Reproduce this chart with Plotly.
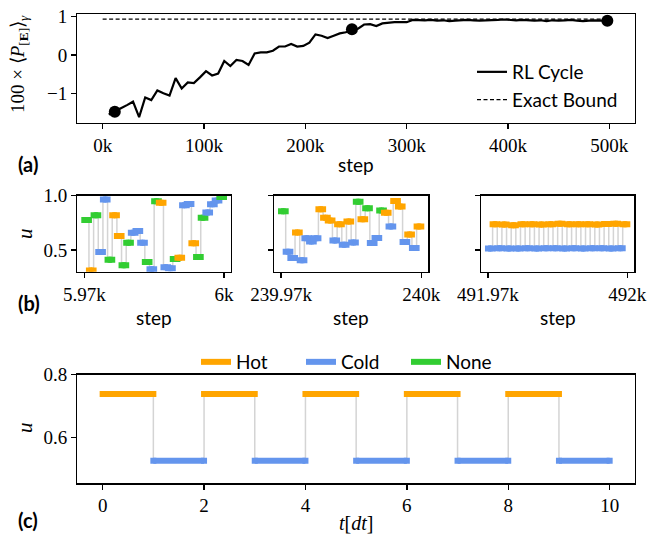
import plotly.graph_objects as go

W, H = 662, 535

# ---------------- data: panel (a) ----------------
A_STEPS = list(range(6000, 498001, 6000))
A_VALUES = [
    -1.54, -1.47, -1.38, -1.30, -1.21, -1.61, -1.10, -1.17, -0.92, -0.99,
    -1.05, -0.60, -0.87, -0.71, -0.73, -0.58, -0.42, -0.53, -0.48, -0.155,
    -0.285, -0.13, -0.155, -0.26, 0.04, 0.07, 0.07, 0.11, 0.22, 0.22,
    0.285, 0.22, 0.235, 0.32, 0.535, 0.50, 0.44, 0.50, 0.56, 0.59,
    0.665, 0.68, 0.79, 0.80, 0.75, 0.82, 0.84, 0.85, 0.85, 0.85,
    0.91, 0.90,
    0.90, 0.91, 0.89, 0.90, 0.88, 0.89, 0.90, 0.91, 0.90, 0.89,
    0.90, 0.90, 0.91, 0.92, 0.91, 0.90, 0.91, 0.90, 0.89, 0.90,
    0.88, 0.90, 0.89, 0.90, 0.91, 0.89, 0.88, 0.89, 0.90, 0.89, 0.89,
]
A_BOUND_STEPS = [0, 500000]
A_BOUND_VALUES = [0.93, 0.93]
A_DOT_STEPS = [12000, 246000, 498000]
A_XTICKS = [0, 100000, 200000, 300000, 400000, 500000]
A_XTICKTEXT = ["0k", "100k", "200k", "300k", "400k", "500k"]
A_YTICKS = [-1, 0, 1]

# ---------------- data: panel (b) ----------------
B1_START = 5970
B1_U = [0.777, 0.31, 0.820, 0.481, 0.964, 0.411, 0.820, 0.628, 0.359, 0.567,
        0.658, 0.674, 0.567, 0.390, 0.323, 0.948, 0.936, 0.341, 0.332, 0.417,
        0.429, 0.912, 0.924, 0.561, 0.436, 0.796, 0.845, 0.921, 0.955, 0.988]
B1_ACT = ["None", "Hot", "None", "Cold", "Cold", "None", "Hot", "Hot", "None", "None",
          "Cold", "Cold", "Cold", "None", "Cold", "None", "Hot", "Cold", "Cold", "None",
          "Hot", "Cold", "Cold", "Hot", "None", "None", "Cold", "Cold", "Cold", "None"]

B2_START = 239970
B2_U = [0.857, 0.484, 0.426, 0.661, 0.405, 0.607, 0.579, 0.607, 0.875, 0.796,
        0.771, 0.588, 0.738, 0.549, 0.762, 0.570, 0.945, 0.784, 0.884, 0.564,
        0.610, 0.863, 0.842, 0.716, 0.951, 0.900, 0.573, 0.643, 0.518, 0.716]
B2_ACT = ["None", "Cold", "Cold", "Hot", "Cold", "Cold", "Cold", "Cold", "Hot", "Hot",
          "Hot", "Cold", "Hot", "Cold", "Hot", "Cold", "None", "Hot", "None", "Cold",
          "Cold", "None", "Hot", "Cold", "Hot", "Hot", "Cold", "Hot", "Cold", "Hot"]

B3_START = 491970
B3_U = [0.514, 0.737, 0.515, 0.735, 0.513, 0.728, 0.514, 0.736, 0.515, 0.738,
        0.513, 0.734, 0.516, 0.737, 0.515, 0.742, 0.514, 0.738, 0.515, 0.737,
        0.514, 0.738, 0.515, 0.735, 0.516, 0.740, 0.514, 0.741, 0.515, 0.738]
B3_ACT = ["Cold", "Hot"] * 15

B_TICKS = [[5970, 6000], [239970, 240000], [491970, 492000]]
B_TICKTEXT = [["5.97k", "6k"], ["239.97k", "240k"], ["491.97k", "492k"]]
B_YTICKS = [0.5, 1.0]
B_YTICKTEXT = ["0.5", "1.0"]

# ---------------- data: panel (c) ----------------
C_START = 0
C_U = [0.738, 0.525, 0.738, 0.525, 0.738, 0.525, 0.738, 0.525, 0.738, 0.525]
C_ACT = ["Hot", "Cold", "Hot", "Cold", "Hot", "Cold", "Hot", "Cold", "Hot", "Cold"]
C_XTICKS = [0, 2, 4, 6, 8, 10]
C_YTICKS = [0.6, 0.8]
C_YTICKTEXT = ["0.6", "0.8"]

COLORS = {"Hot": "#FFA500", "Cold": "#6495ED", "None": "#32CD32"}
LEGEND_ORDER = ["Hot", "Cold", "None"]

SERIF = "Liberation Serif"
SANS = "Lato"


def px_x(p):
    return p / W


def px_y(p):
    return 1 - p / H


fig = go.Figure()


def add_segments(start, us, acts, xa, ya):
    cx, cy = [], []
    for i in range(1, len(us)):
        s = start + i
        cx += [s, s, None]
        cy += [us[i - 1], us[i], None]
    fig.add_trace(go.Scatter(x=cx, y=cy, mode="lines",
                             line=dict(color="#d4d4d4", width=1.5),
                             xaxis=xa, yaxis=ya, showlegend=False, hoverinfo="skip"))
    for i, (u, a) in enumerate(zip(us, acts)):
        s = start + i
        fig.add_trace(go.Scatter(
            x=[s, s + 1], y=[u, u], mode="lines+markers",
            line=dict(color=COLORS[a], width=6),
            marker=dict(symbol="square", size=6, color=COLORS[a], line=dict(width=0)),
            xaxis=xa, yaxis=ya, showlegend=False, hoverinfo="skip"))


# panel (a)
fig.add_trace(go.Scatter(x=A_BOUND_STEPS, y=A_BOUND_VALUES, mode="lines",
                         line=dict(color="black", width=1.3, dash="4px,2.5px"),
                         name="Exact Bound", xaxis="x", yaxis="y", legend="legend",
                         legendrank=2))
fig.add_trace(go.Scatter(x=A_STEPS, y=A_VALUES, mode="lines",
                         line=dict(color="black", width=2.2),
                         name="RL Cycle", xaxis="x", yaxis="y", legend="legend",
                         legendrank=1))
dot_vals = [A_VALUES[A_STEPS.index(s)] for s in A_DOT_STEPS]
fig.add_trace(go.Scatter(x=A_DOT_STEPS, y=dot_vals, mode="markers",
                         marker=dict(color="black", size=12),
                         xaxis="x", yaxis="y", showlegend=False))

# panel (b)
add_segments(B1_START, B1_U, B1_ACT, "x2", "y2")
add_segments(B2_START, B2_U, B2_ACT, "x3", "y3")
add_segments(B3_START, B3_U, B3_ACT, "x4", "y4")

# panel (c)
add_segments(C_START, C_U, C_ACT, "x5", "y5")

# legend entries for actions
for a in LEGEND_ORDER:
    fig.add_trace(go.Scatter(x=[None], y=[None], mode="lines", name=a,
                             line=dict(color=COLORS[a], width=6),
                             xaxis="x5", yaxis="y5", legend="legend2"))

axstyle = dict(showline=True, linecolor="black", linewidth=1.3, mirror=True,
               ticks="outside", ticklen=5, tickwidth=1.3, tickcolor="black",
               showgrid=False, zeroline=False, automargin=False,
               tickfont=dict(family=SERIF, size=19, color="black"))

# domains (pixels -> paper)
A_X = [px_x(77.3), px_x(634.7)]
A_Y = [px_y(122.7), px_y(14.3)]
B_Y = [px_y(271.7), px_y(195.7)]
B1_X = [px_x(77.3), px_x(231)]
B2_X = [px_x(274), px_x(428.3)]
B3_X = [px_x(481), px_x(634.3)]
C_X = [px_x(77.3), px_x(635)]
C_Y = [px_y(483.3), px_y(374.7)]


def brange(start, n):
    return [start - 0.05 * n, start + n + 0.05 * n]


fig.update_layout(
    template="none",
    width=W, height=H,
    margin=dict(l=0, r=0, t=0, b=0, pad=0),
    paper_bgcolor="white", plot_bgcolor="white",
    showlegend=True,
    xaxis=dict(domain=A_X, anchor="y", range=[-25000, 525000],
               tickvals=A_XTICKS, ticktext=A_XTICKTEXT, **axstyle),
    yaxis=dict(domain=A_Y, anchor="x", range=[-1.755, 1.055],
               tickvals=A_YTICKS, **axstyle),
    xaxis2=dict(domain=B1_X, anchor="y2", range=brange(B1_START, len(B1_U)),
                tickvals=B_TICKS[0], ticktext=B_TICKTEXT[0], **axstyle),
    yaxis2=dict(domain=B_Y, anchor="x2", range=[0.3, 1.0],
                tickvals=B_YTICKS, ticktext=B_YTICKTEXT, **axstyle),
    xaxis3=dict(domain=B2_X, anchor="y3", range=brange(B2_START, len(B2_U)),
                tickvals=B_TICKS[1], ticktext=B_TICKTEXT[1], **axstyle),
    yaxis3=dict(domain=B_Y, anchor="x3", range=[0.3, 1.0],
                tickvals=B_YTICKS, showticklabels=False, **axstyle),
    xaxis4=dict(domain=B3_X, anchor="y4", range=brange(B3_START, len(B3_U)),
                tickvals=B_TICKS[2], ticktext=B_TICKTEXT[2], **axstyle),
    yaxis4=dict(domain=B_Y, anchor="x4", range=[0.3, 1.0],
                tickvals=B_YTICKS, showticklabels=False, **axstyle),
    xaxis5=dict(domain=C_X, anchor="y5", range=brange(C_START, len(C_U)),
                tickvals=C_XTICKS, **axstyle),
    yaxis5=dict(domain=C_Y, anchor="x5", range=[0.453, 0.8],
                tickvals=C_YTICKS, ticktext=C_YTICKTEXT, **axstyle),
    legend=dict(x=px_x(472), y=px_y(53), xanchor="left", yanchor="top",
                bgcolor="rgba(0,0,0,0)", borderwidth=0,
                font=dict(family=SANS, size=19, color="black"),
                traceorder="normal"),
    legend2=dict(x=px_x(196), y=px_y(343), xanchor="left", yanchor="top",
                 orientation="h", bgcolor="rgba(0,0,0,0)", borderwidth=0,
                 entrywidth=60, entrywidthmode="pixels",
                 font=dict(family=SANS, size=19, color="black")),
)

ann_font = dict(family=SANS, size=19, color="black")
annotations = [
    dict(text="<b>(a)</b>", x=px_x(16), y=px_y(164), xanchor="left", yanchor="middle",
         font=dict(family=SANS, size=20, color="black")),
    dict(text="<b>(b)</b>", x=px_x(16), y=px_y(303), xanchor="left", yanchor="middle",
         font=dict(family=SANS, size=20, color="black")),
    dict(text="<b>(c)</b>", x=px_x(16), y=px_y(520), xanchor="left", yanchor="middle",
         font=dict(family=SANS, size=20, color="black")),
    dict(text="step", x=px_x(356), y=px_y(164), xanchor="center", yanchor="middle", font=ann_font),
    dict(text="step", x=px_x(154), y=px_y(317), xanchor="center", yanchor="middle", font=ann_font),
    dict(text="step", x=px_x(351), y=px_y(317), xanchor="center", yanchor="middle", font=ann_font),
    dict(text="step", x=px_x(558), y=px_y(317), xanchor="center", yanchor="middle", font=ann_font),
    dict(text="<i>t</i>[<i>dt</i>]", x=px_x(356), y=px_y(523), xanchor="center", yanchor="middle",
         font=dict(family=SERIF, size=20, color="black")),
    dict(text="100 × ⟨<i>P</i><sub>[<b>E</b>]</sub>⟩<sub><i>γ</i></sub>", x=px_x(19), y=px_y(64),
         xanchor="center", yanchor="middle", textangle=-90,
         font=dict(family=SERIF, size=19, color="black")),
    dict(text="<i>u</i>", x=px_x(25), y=px_y(234), xanchor="center", yanchor="middle",
         textangle=-90, font=dict(family=SERIF, size=21, color="black")),
    dict(text="<i>u</i>", x=px_x(25), y=px_y(428), xanchor="center", yanchor="middle",
         textangle=-90, font=dict(family=SERIF, size=21, color="black")),
]
for a in annotations:
    a.update(xref="paper", yref="paper", showarrow=False)
fig.update_layout(annotations=annotations)

fig.write_html("out.html",
               config={"displayModeBar": False, "staticPlot": True},
               post_script="document.body.style.margin='0';document.body.style.overflow='hidden';")
